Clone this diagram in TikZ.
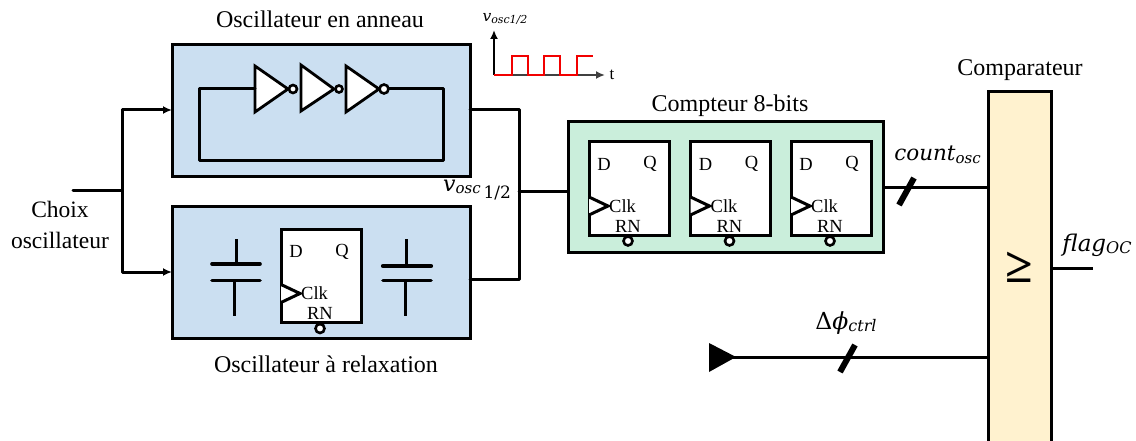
\documentclass[tikz,border=0pt]{standalone}
\usepackage{fontspec}
\setmainfont{Liberation Serif}
\newfontfamily\eqfont{DejaVu Serif}
\usetikzlibrary{arrows.meta,calc}
\definecolor{blockblue}{HTML}{CBDFF1}
\definecolor{blockgreen}{HTML}{CAEEDB}
\definecolor{blockyellow}{HTML}{FFF2CF}
\newcommand{\eqsub}[4]{{\fontsize{#1}{#1}\selectfont\eqfont\itshape #3}\raisebox{-0.25em}{\fontsize{#2}{#2}\selectfont\eqfont\itshape #4}}
\tikzset{
  wire/.style={line width=3pt,line join=round,line cap=round},
  thinwire/.style={line width=3pt},
  block/.style={draw=black,line width=3pt,inner sep=0pt,outer sep=0pt},
  ffbox/.style={draw=black,fill=white,line width=3pt,inner sep=0pt,outer sep=0pt,minimum width=80pt,minimum height=93pt},
  bubble/.style={circle,draw=black,fill=white,line width=2.6pt,inner sep=0pt,outer sep=0pt},
  inv/.style={draw=black,fill=white,line width=2.8pt,line join=miter},
  title/.style={font=\fontsize{24}{28}\selectfont,inner sep=0pt},
  fflabel/.style={font=\fontsize{18.5}{20}\selectfont,inner sep=0pt},
  mathlabel/.style={inner sep=0pt},
  platewire/.style={line width=3.6pt,line cap=round},
  leadwire/.style={line width=3pt},
  slash/.style={line width=6pt},
  tipsmall/.style={-{Latex[length=9pt,width=8pt]}},
}
\newcommand{\ffblock}[3]{%
  \node[ffbox] (#1) at (#2+40,#3+46.5) {};
  \node[fflabel] (#1d) at (#2+15,#3+22) {D};
  \node[fflabel] (#1q) at (#2+61,#3+22) {Q};
  \node[fflabel,anchor=west] (#1c) at (#2+20,#3+64) {Clk};
  \node[fflabel] (#1r) at (#2+39,#3+84) {RN};
  \draw[line width=3pt,fill=white,line join=miter] (#2,#3+55) -- (#2+19,#3+64) -- (#2,#3+73);
  \node[bubble,minimum size=9pt] (#1b) at (#2+39,#3+99) {};
}
\begin{document}
\begin{tikzpicture}[x=1pt,y=-1pt]
\useasboundingbox (0,0) rectangle (1136,441);

% main blocks
\node[block,fill=blockblue,minimum width=298pt,minimum height=132pt] (ring) at (321,111) {};
\node[block,fill=blockblue,minimum width=298pt,minimum height=131pt] (relax) at (321,272.5) {};
\node[block,fill=blockgreen,minimum width=315pt,minimum height=130pt] (count) at (725.5,187) {};
\node[draw=black,line width=3pt,fill=blockyellow,inner sep=0pt,outer sep=0pt,minimum width=63pt,minimum height=358pt] (comp) at (1019.5,271) {};

% titles
\node[title] (tring) at (320,19) {Oscillateur en anneau};
\node[title] (trelax) at (326,364) {Oscillateur à relaxation};
\node[title] (tcount) at (730,106) {Compteur 8-bits};
\node[title] (tcomp) at (1020,70) {Comparateur};
\node[title,align=center,font=\fontsize{23.5}{31}\selectfont] (tchoix) at (60,224.5) {Choix\\oscillateur};

% input selection
\coordinate (in) at (73,191);
\coordinate (fork) at (122,191);
\coordinate (forkr) at (122,110);
\coordinate (forkx) at (122,272);
\draw[wire] (in) -- (fork);
\draw[wire,tipsmall] (fork) -- (forkr) -- (ring.west |- forkr);
\draw[wire,tipsmall] (fork) -- (forkx) -- (relax.west |- forkx);

% ring oscillator
\draw[inv] (255,66) -- (255,112) -- (288,89) -- cycle;
\draw[inv] (301,65) -- (301,111) -- (334,89) -- cycle;
\draw[inv] (346,66) -- (346,112) -- (379,89) -- cycle;
\node[bubble,minimum size=8pt] (b1) at (293,89) {};
\node[bubble,minimum size=7pt] (b2) at (339,89) {};
\node[bubble,minimum size=9pt] (b3) at (384,89) {};
\coordinate (ringa) at (443,89);
\coordinate (ringb) at (443,161);
\coordinate (ringc) at (199,161);
\coordinate (ringd) at (199,89);
\coordinate (inv1in) at (255,89);
\draw[wire] (b3.east) -- (ringa) -- (ringb) -- (ringc) -- (ringd) -- (inv1in);

% capacitors
\draw[platewire] (212,264) -- (260,264);
\draw[platewire] (212,280.5) -- (260,280.5);
\draw[leadwire] (236,239) -- (236,264);
\draw[leadwire] (234,280) -- (234,316);
\draw[platewire,line width=4.2pt] (383,266) -- (431,266);
\draw[platewire] (383,280.5) -- (431,280.5);
\draw[leadwire] (406,239) -- (406,266);
\draw[leadwire] (405,280) -- (405,316);

% flip-flops
\ffblock{ffa}{281}{229.5}
\ffblock{ffb}{589}{142}
\ffblock{ffc}{690.5}{142}
\ffblock{ffd}{791}{142}

% oscillator output
\coordinate (outtop) at (519,110);
\coordinate (outbot) at (519,279);
\coordinate (outmid) at (519,192);
\draw[wire] (ring.east |- outtop) -- (outtop) -- (outbot) -- (relax.east |- outbot);
\draw[wire] (outmid) -- (count.west |- outmid);
\node[mathlabel,anchor=west] (vlabel) at (443,190) {\eqsub{22}{15}{v}{osc}\raisebox{-7pt}{\fontsize{17}{17}\selectfont\eqfont\,1/2}};

% waveform
\coordinate (orig) at (494,75);
\coordinate (ytop) at (494,30);
\coordinate (xend) at (605,75);
\draw[line width=2pt,-{Latex[length=9pt,width=8pt]}] (orig) -- (ytop);
\draw[line width=2pt,draw=black!75,-{Latex[length=9pt,width=8pt]}] (orig) -- (xend);
\draw[line width=2pt,draw=red!95!black,line join=miter] (orig) -- (512,75) -- (512,56) -- (528,56) -- (528,75) -- (544,75) -- (544,56) -- (560,56) -- (560,75) -- (577,75) -- (577,56) -- (593,56);
\node[font=\fontsize{17}{18}\selectfont,inner sep=0pt] (tlabel) at (612,75) {t};
\node[mathlabel] (vwave) at (505,19) {\eqsub{15.5}{11}{v}{osc1/2}};

% outputs and comparator
\coordinate (cnt) at (883,188);
\draw[thinwire] (count.east |- cnt) -- (comp.west |- cnt);
\draw[slash] (914,178) -- (899,205);
\node[mathlabel] (lcount) at (937.5,155) {\eqsub{21.5}{15}{count}{osc}};

\node[font=\fontsize{50}{54}\selectfont\bfseries,inner sep=0pt] (ge) at (1019,267) {≥};

\coordinate (flagend) at (1093,268);
\draw[thinwire] (comp.east |- flagend) -- (flagend);
\node[mathlabel] (lflag) at (1097,245) {\eqsub{23}{16}{flag}{OC}};

\node[mathlabel] (lphi) at (846,323) {\eqsub{23.5}{16}{\upshape Δ\itshape ϕ}{ctrl}};
\coordinate (ph) at (733,357);
\draw[thinwire] (ph) -- (comp.west |- ph);
\fill[black] (709,343) -- (736,357) -- (709,372) -- cycle;
\draw[slash] (855,345) -- (840,372);
\end{tikzpicture}
\end{document}
